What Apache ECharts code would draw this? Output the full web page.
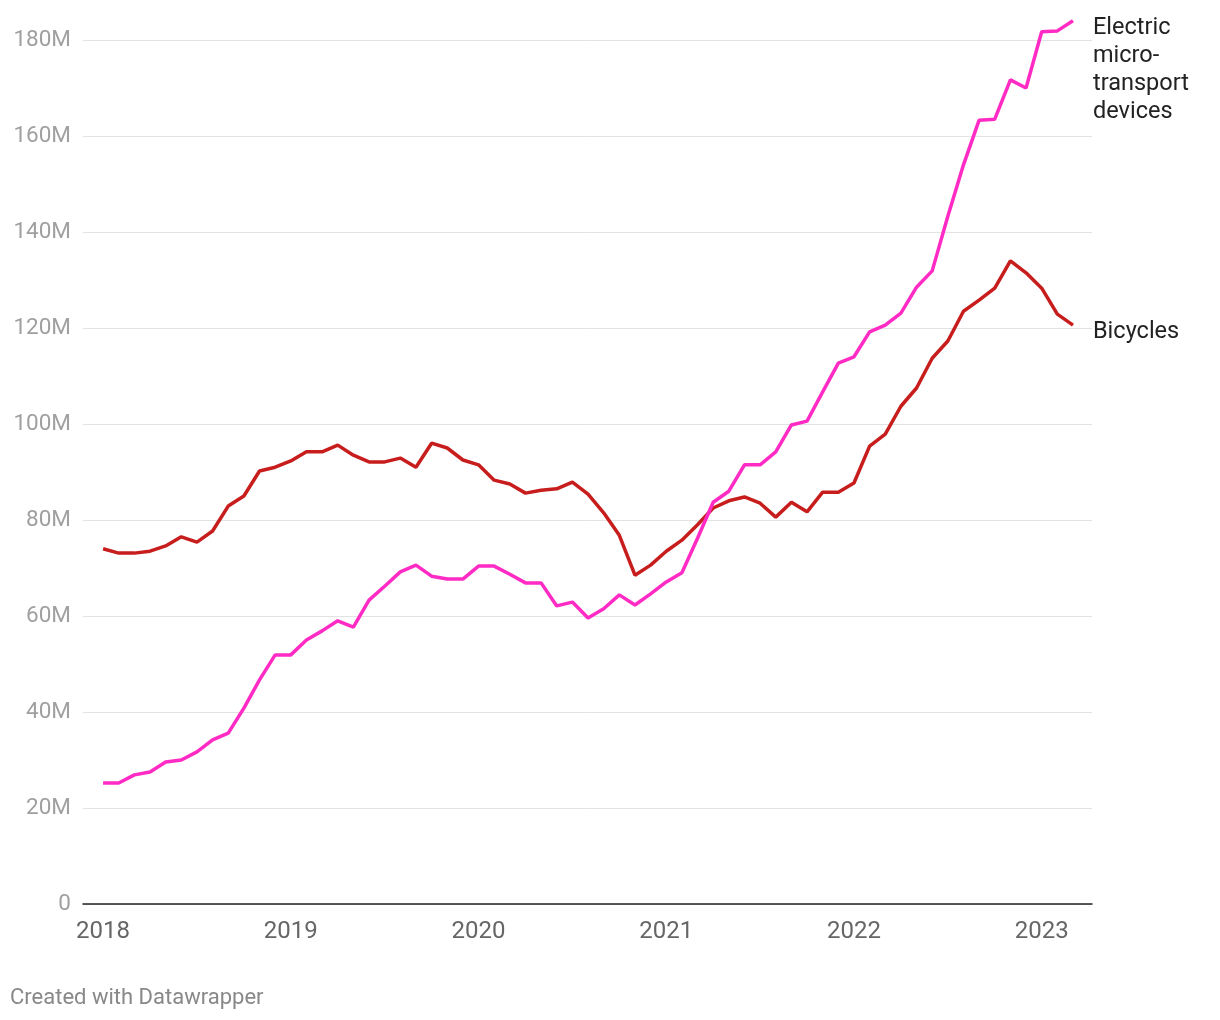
<!DOCTYPE html>
<html>
<head>
<meta charset="utf-8">
<script src="https://cdn.jsdelivr.net/npm/echarts@6/dist/echarts.min.js"></script>
<style>
html,body{margin:0;padding:0;background:#fff;}
#chart{width:1220px;height:1020px;}
</style>
</head>
<body>
<div id="chart"></div>
<script>
// Monthly, Jan 2018 .. Mar 2023
const months = [];
for (let y = 2018; y <= 2023; y++) {
  for (let m = 1; m <= 12; m++) {
    if (y === 2023 && m > 3) break;
    months.push(y + '-' + String(m).padStart(2, '0'));
  }
}
const yearTicks = [2018, 2019, 2020, 2021, 2022, 2023];

// values in millions
const bicycles = [74.0,73.1,73.1,73.5,74.6,76.5,75.4,77.7,82.9,85.0,90.2,91.0,
  92.3,94.2,94.2,95.6,93.5,92.1,92.1,92.9,91.0,96.0,95.0,92.5,
  91.5,88.3,87.5,85.6,86.2,86.5,87.9,85.4,81.5,76.8,68.5,70.6,
  73.5,75.8,79.0,82.5,84.0,84.8,83.5,80.6,83.7,81.7,85.8,85.8,
  87.7,95.4,97.9,103.7,107.5,113.7,117.3,123.5,125.8,128.3,134.0,131.5,
  128.3,122.9,120.6];
const electric = [25.2,25.2,26.9,27.5,29.6,30.0,31.7,34.2,35.6,40.8,46.7,51.9,
  51.9,55.0,56.9,59.0,57.7,63.3,66.2,69.2,70.6,68.3,67.7,67.7,
  70.4,70.4,68.7,66.9,66.9,62.1,62.9,59.6,61.5,64.4,62.3,64.6,
  67.1,69.0,76.2,83.7,86.0,91.5,91.5,94.2,99.8,100.6,106.7,112.7,
  114.0,119.2,120.6,123.1,128.5,131.9,143.3,154.0,163.3,163.5,171.7,170.0,
  181.7,181.9,184.0];

function toX(s) {
  const [y, m] = s.split('-').map(Number);
  return y + (m - 1) / 12;
}
const bikeData = months.map((d, i) => [toX(d), bicycles[i]]);
const elecData = months.map((d, i) => [toX(d), electric[i]]);

const chart = echarts.init(document.getElementById('chart'));
const FONT = 'Roboto';
chart.setOption({
  animation: false,
  backgroundColor: '#ffffff',
  textStyle: { fontFamily: FONT },
  title: {
    text: 'Created with Datawrapper',
    left: 10, top: 987, padding: 0,
    textStyle: { fontFamily: FONT, fontSize: 22, fontWeight: 'normal', color: '#888888' }
  },
  grid: { left: 83, right: 128, top: 40, bottom: 116, containLabel: false },
  xAxis: {
    type: 'value',
    min: 2017.893,
    max: 2023.268,
    splitLine: { show: false },
    axisLine: { show: true, onZero: false, lineStyle: { color: '#222222', width: 1.5 } },
    axisTick: { show: false },
    axisLabel: {
      customValues: yearTicks,
      formatter: v => String(Math.round(v)),
      color: '#666666', fontSize: 24, fontFamily: FONT, margin: 16
    }
  },
  yAxis: {
    type: 'value',
    min: 0, max: 180, interval: 20,
    axisLine: { show: false },
    axisTick: { show: false },
    splitLine: { lineStyle: { color: '#e2e2e2', width: 1 } },
    axisLabel: {
      formatter: v => v === 0 ? '0' : v + 'M',
      color: '#a0a0a0', fontSize: 22.5, fontFamily: FONT, margin: 12,
      padding: [4, 0, 0, 0]
    }
  },
  series: [
    {
      name: 'Bicycles',
      type: 'line',
      data: bikeData,
      showSymbol: false,
      clip: false,
      lineStyle: { color: '#c71e1d', width: 3.5 },
      itemStyle: { color: '#c71e1d' },
      endLabel: {
        show: true,
        formatter: 'Bicycles',
        color: '#222222', fontSize: 23.5, fontFamily: FONT,
        distance: 20, offset: [0, 7]
      }
    },
    {
      name: 'Electric micro-transport devices',
      type: 'line',
      data: elecData,
      showSymbol: false,
      clip: false,
      lineStyle: { color: '#ff2bc4', width: 3.5 },
      itemStyle: { color: '#ff2bc4' },
      endLabel: {
        show: true,
        formatter: 'Electric\nmicro-\ntransport\ndevices',
        color: '#222222', fontSize: 23.5, fontFamily: FONT, lineHeight: 28,
        distance: 20, offset: [0, 49]
      }
    }
  ]
});
</script>
</body>
</html>
